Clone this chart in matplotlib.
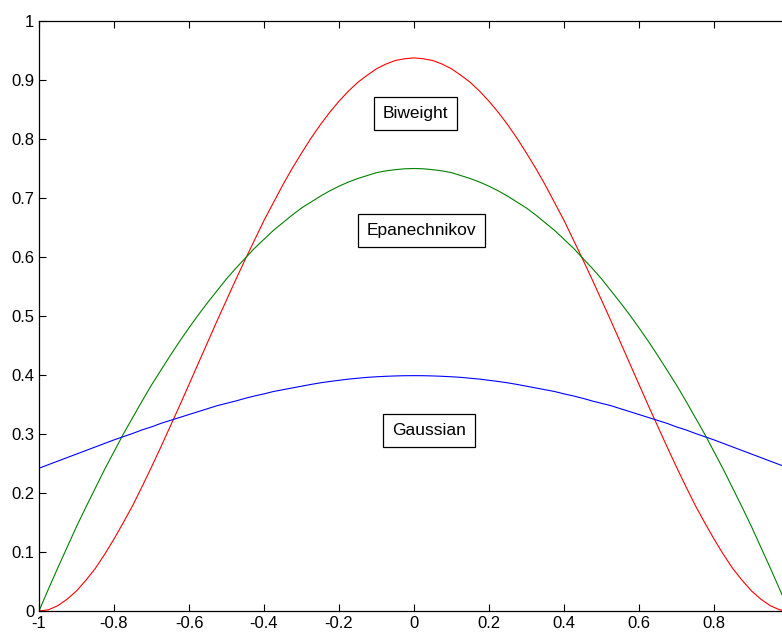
import numpy as np
import matplotlib
matplotlib.use("Agg")
import matplotlib.pyplot as plt

plt.rcParams['font.family'] = ['Liberation Sans', 'DejaVu Sans']

# sample points, every 0.025
x = [-1.000, -0.975, -0.950, -0.925, -0.900, -0.875, -0.850, -0.825, -0.800, -0.775,
     -0.750, -0.725, -0.700, -0.675, -0.650, -0.625, -0.600, -0.575, -0.550, -0.525,
     -0.500, -0.475, -0.450, -0.425, -0.400, -0.375, -0.350, -0.325, -0.300, -0.275,
     -0.250, -0.225, -0.200, -0.175, -0.150, -0.125, -0.100, -0.075, -0.050, -0.025,
     0.000,
     0.025, 0.050, 0.075, 0.100, 0.125, 0.150, 0.175, 0.200, 0.225, 0.250,
     0.275, 0.300, 0.325, 0.350, 0.375, 0.400, 0.425, 0.450, 0.475, 0.500,
     0.525, 0.550, 0.575, 0.600, 0.625, 0.650, 0.675, 0.700, 0.725, 0.750,
     0.775, 0.800, 0.825, 0.850, 0.875, 0.900, 0.925, 0.950, 0.975, 1.000]

biweight = [0.000, 0.002, 0.009, 0.020, 0.034, 0.052, 0.072, 0.096, 0.122, 0.150,
            0.179, 0.211, 0.244, 0.278, 0.313, 0.348, 0.384, 0.420, 0.456, 0.492,
            0.527, 0.562, 0.596, 0.629, 0.662, 0.692, 0.722, 0.750, 0.776, 0.801,
            0.824, 0.845, 0.864, 0.881, 0.896, 0.908, 0.919, 0.927, 0.933, 0.936,
            0.9375,
            0.936, 0.933, 0.927, 0.919, 0.908, 0.896, 0.881, 0.864, 0.845, 0.824,
            0.801, 0.776, 0.750, 0.722, 0.692, 0.662, 0.629, 0.596, 0.562, 0.527,
            0.492, 0.456, 0.420, 0.384, 0.348, 0.313, 0.278, 0.244, 0.211, 0.179,
            0.150, 0.122, 0.096, 0.072, 0.052, 0.034, 0.020, 0.009, 0.002, 0.000]

epanechnikov = [0.000, 0.037, 0.073, 0.108, 0.143, 0.176, 0.208, 0.240, 0.270, 0.300,
                0.328, 0.356, 0.383, 0.408, 0.433, 0.457, 0.480, 0.502, 0.523, 0.543,
                0.563, 0.581, 0.598, 0.615, 0.630, 0.645, 0.658, 0.671, 0.683, 0.693,
                0.703, 0.712, 0.720, 0.727, 0.733, 0.738, 0.743, 0.746, 0.748, 0.7495,
                0.750,
                0.7495, 0.748, 0.746, 0.743, 0.738, 0.733, 0.727, 0.720, 0.712, 0.703,
                0.693, 0.683, 0.671, 0.658, 0.645, 0.630, 0.615, 0.598, 0.581, 0.563,
                0.543, 0.523, 0.502, 0.480, 0.457, 0.433, 0.408, 0.383, 0.356, 0.328,
                0.300, 0.270, 0.240, 0.208, 0.176, 0.143, 0.108, 0.073, 0.037, 0.000]

gaussian = [0.242, 0.248, 0.254, 0.260, 0.266, 0.272, 0.278, 0.284, 0.290, 0.2955,
            0.301, 0.307, 0.312, 0.318, 0.323, 0.328, 0.333, 0.338, 0.343, 0.348,
            0.352, 0.356, 0.3605, 0.3645, 0.368, 0.372, 0.375, 0.378, 0.381, 0.384,
            0.3867, 0.389, 0.391, 0.393, 0.3945, 0.396, 0.397, 0.3978, 0.3984, 0.3988,
            0.3989,
            0.3988, 0.3984, 0.3978, 0.397, 0.396, 0.3945, 0.393, 0.391, 0.389, 0.3867,
            0.384, 0.381, 0.378, 0.375, 0.372, 0.368, 0.3645, 0.3605, 0.356, 0.352,
            0.348, 0.343, 0.338, 0.333, 0.328, 0.323, 0.318, 0.312, 0.307, 0.301,
            0.2955, 0.290, 0.284, 0.278, 0.272, 0.266, 0.260, 0.254, 0.248, 0.242]

xticks = [-1, -0.8, -0.6, -0.4, -0.2, 0, 0.2, 0.4, 0.6, 0.8, 1]
# the '1' label falls outside the cropped picture, so it is left empty
xticklabels = ['-1', '-0.8', '-0.6', '-0.4', '-0.2', '0', '0.2', '0.4', '0.6', '0.8', '']
yticks = [0, 0.1, 0.2, 0.3, 0.4, 0.5, 0.6, 0.7, 0.8, 0.9, 1]
yticklabels = ['0', '0.1', '0.2', '0.3', '0.4', '0.5', '0.6', '0.7', '0.8', '0.9', '1']

labels = ['Biweight', 'Epanechnikov', 'Gaussian']
label_pos = [(0.003, 0.843), (0.019, 0.645), (0.04, 0.306)]

fig = plt.figure(figsize=(7.82, 6.32), dpi=100)
# axes run a little past the right edge of the picture, as in the original
ax = fig.add_axes([39 / 782, 21 / 632, 750 / 782, 590 / 632])

ax.plot(x, biweight, color='#ff0000', lw=0.8)
ax.plot(x, epanechnikov, color='#008000', lw=0.8)
ax.plot(x, gaussian, color='#0000ff', lw=0.8)

for lab, (tx, ty) in zip(labels, label_pos):
    ax.text(tx, ty, lab, ha='center', va='center', fontsize=12.5,
            bbox=dict(boxstyle='square,pad=0.5', fc='white', ec='black', lw=0.9))

ax.set_xlim(-1, 1)
ax.set_ylim(0, 1)
ax.set_xticks(xticks)
ax.set_xticklabels(xticklabels)
ax.set_yticks(yticks)
ax.set_yticklabels(yticklabels)
ax.tick_params(direction='in', top=True, right=True, length=5, width=0.8,
               labelsize=12, pad=3.5)
for s in ax.spines.values():
    s.set_linewidth(0.9)

fig.savefig('out.png', dpi=100)
